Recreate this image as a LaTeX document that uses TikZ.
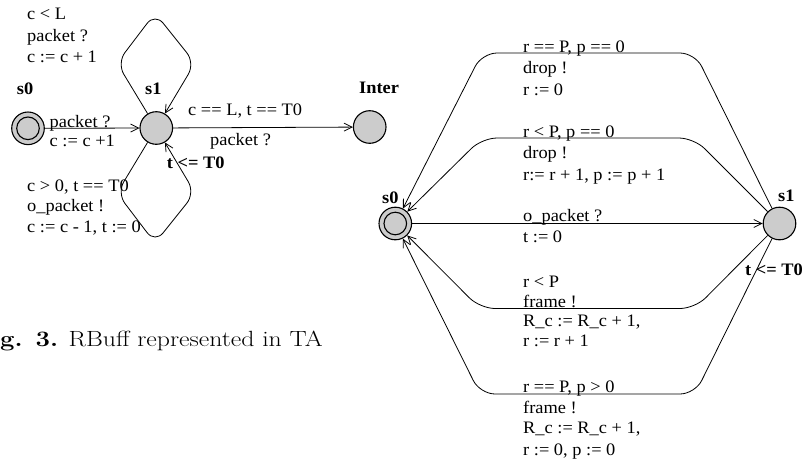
\documentclass[tikz,border=0pt]{standalone}
\usepackage{fontspec}
\usepackage{graphicx}
\newfontfamily\tnr{Liberation Serif}
\usetikzlibrary{arrows.meta}
\definecolor{stategray}{HTML}{CCCCCC}
\begin{document}
\begin{tikzpicture}[x=1pt,y=-1pt,
  state/.style={circle, draw, fill=stategray, line width=1.1pt, minimum size=32.6pt, inner sep=0pt},
  edge/.style={line width=0.8pt, -{Straight Barb[length=8pt,width=8pt,line width=0.8pt]}},
  lbl/.style={font=\tnr\fontsize{17.5}{21}\selectfont, inner sep=0pt, anchor=base west, xscale=1.05},
  nm/.style={font=\tnr\bfseries\fontsize{17.5}{21}\selectfont, inner sep=0pt, anchor=base west, xscale=1.05}]
\useasboundingbox (0,0) rectangle (809,469);

% ---------- left automaton ----------
\node[state] (L0) at (28,128.3) {};
\draw[line width=1.1pt] (L0.center) circle[radius=11.3pt];
\node[state] (L1) at (156.3,128) {};
\node[state] (Inter) at (369.7,127) {};

\node[nm] (ls0) at (16.7,94) {s0};
\node[nm] (ls1) at (145,94) {s1};
\node[nm] (linter) at (359,93.3) {Inter};

\draw[edge] (L0) -- (L1);
\draw[edge] (L1) -- (Inter);
\draw[edge, rounded corners=13pt] (L1) -- (117,63) -- (155,13) -- (195,63) -- (L1);
\draw[edge, rounded corners=13pt] (L1) -- (117,193) -- (155,243) -- (195,193) -- (L1);

\node[lbl] (lt1) at (27,19.5) {c < L};
\node[lbl] (lt2) at (27,41) {packet ?};
\node[lbl] (lt3) at (27,62.7) {c := c + 1};
\node[lbl] (lb1) at (27,191) {c > 0, t == T0};
\node[lbl] (lb2) at (27,211.5) {o\_packet !};
\node[lbl] (lb3) at (27,232.5) {c := c - 1, t := 0};
\node[lbl] (la1) at (49.5,127.5) {packet ?};
\node[lbl] (la2) at (49.5,146.5) {c := c +1};
\node[lbl] (li1) at (188,115) {c == L, t == T0};
\node[lbl] (li2) at (210,145.5) {packet ?};
\node[nm] (linv) at (166.7,168) {t <= T0};

% ---------- right automaton ----------
\node[state] (R0) at (395.3,223.5) {};
\draw[line width=1.1pt] (R0.center) circle[radius=11.3pt];
\node[state] (R1) at (779.5,223.5) {};
\node[nm] (rs0) at (382,203) {s0};
\node[nm] (rs1) at (778,201.7) {s1};
\node[nm] (rinv) at (745,275) {t <= T0};

\draw[edge, rounded corners=15pt] (R1) -- (695,53) -- (482,53) -- (R0);
\draw[edge, rounded corners=15pt] (R1) -- (694,138) -- (482,138) -- (R0);
\draw[edge] (R0) -- (R1);
\draw[edge, rounded corners=15pt] (R1) -- (695,308.5) -- (480,308.5) -- (R0);
\draw[edge, rounded corners=15pt] (R1) -- (695,394) -- (480,394) -- (R0);

\node[lbl] (g1a) at (523,52) {r == P, p == 0};
\node[lbl] (g1b) at (523,73.3) {drop !};
\node[lbl] (g1c) at (523,95) {r := 0};
\node[lbl] (g2a) at (523,137.3) {r < P, p == 0};
\node[lbl] (g2b) at (523,158.3) {drop !};
\node[lbl] (g2c) at (523,180) {r:= r + 1, p := p + 1};
\node[lbl] (g3a) at (523,221.7) {o\_packet ?};
\node[lbl] (g3b) at (523,242.7) {t := 0};
\node[lbl] (g4a) at (523,287.3) {r < P};
\node[lbl] (g4b) at (523,307.3) {frame !};
\node[lbl] (g4c) at (523,326) {R\_c := R\_c + 1,};
\node[lbl] (g4d) at (523,346.7) {r := r + 1};
\node[lbl] (g5a) at (523,392.7) {r == P, p > 0};
\node[lbl] (g5b) at (523,413.3) {frame !};
\node[lbl] (g5c) at (523,433.3) {R\_c := R\_c + 1,};
\node[lbl] (g5d) at (523,455) {r := 0, p := 0};

% ---------- caption ----------
\node[anchor=base west, inner sep=0pt, font=\fontsize{22}{26}\selectfont, xscale=1.17] (cap) at (0,346) {\textbf{g. 3.} RBuff represented in TA};
\end{tikzpicture}
\end{document}
